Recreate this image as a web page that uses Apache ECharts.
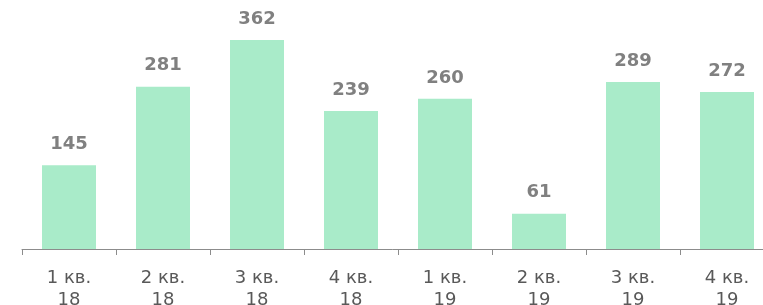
<!DOCTYPE html>
<html><head><meta charset="utf-8">
<script src="https://cdn.jsdelivr.net/npm/echarts@6/dist/echarts.min.js"></script>
<style>html,body{margin:0;padding:0;background:#fff}#c{width:763px;height:305px}</style>
</head><body><div id="c"></div>
<script>
const categories = ['1 кв.\n18','2 кв.\n18','3 кв.\n18','4 кв.\n18','1 кв.\n19','2 кв.\n19','3 кв.\n19','4 кв.\n19'];
const values = [145, 281, 362, 239, 260, 61, 289, 272];
const chart = echarts.init(document.getElementById('c'));
chart.setOption({
  animation: false,
  grid: {left: 22, width: 752, top: 18, height: 231, outerBoundsMode: 'none', containLabel: false},
  xAxis: {
    type: 'category', data: categories,
    axisLine: {lineStyle: {color: '#8c8c8c', width: 1}},
    axisTick: {show: true, length: 6, lineStyle: {color: '#8c8c8c'}},
    axisLabel: {color: '#595959', fontSize: 18, fontFamily: 'DejaVu Sans', lineHeight: 22, margin: 18}
  },
  yAxis: {type: 'value', min: 0, max: 400, show: false, splitLine: {show: false}},
  series: [{
    type: 'bar', data: values, barWidth: 54,
    itemStyle: {color: '#a9ebc9'},
    label: {show: true, position: 'top', distance: 12, color: '#808080', fontSize: 18, fontWeight: 'bold', fontFamily: 'DejaVu Sans'}
  }]
});
</script></body></html>
